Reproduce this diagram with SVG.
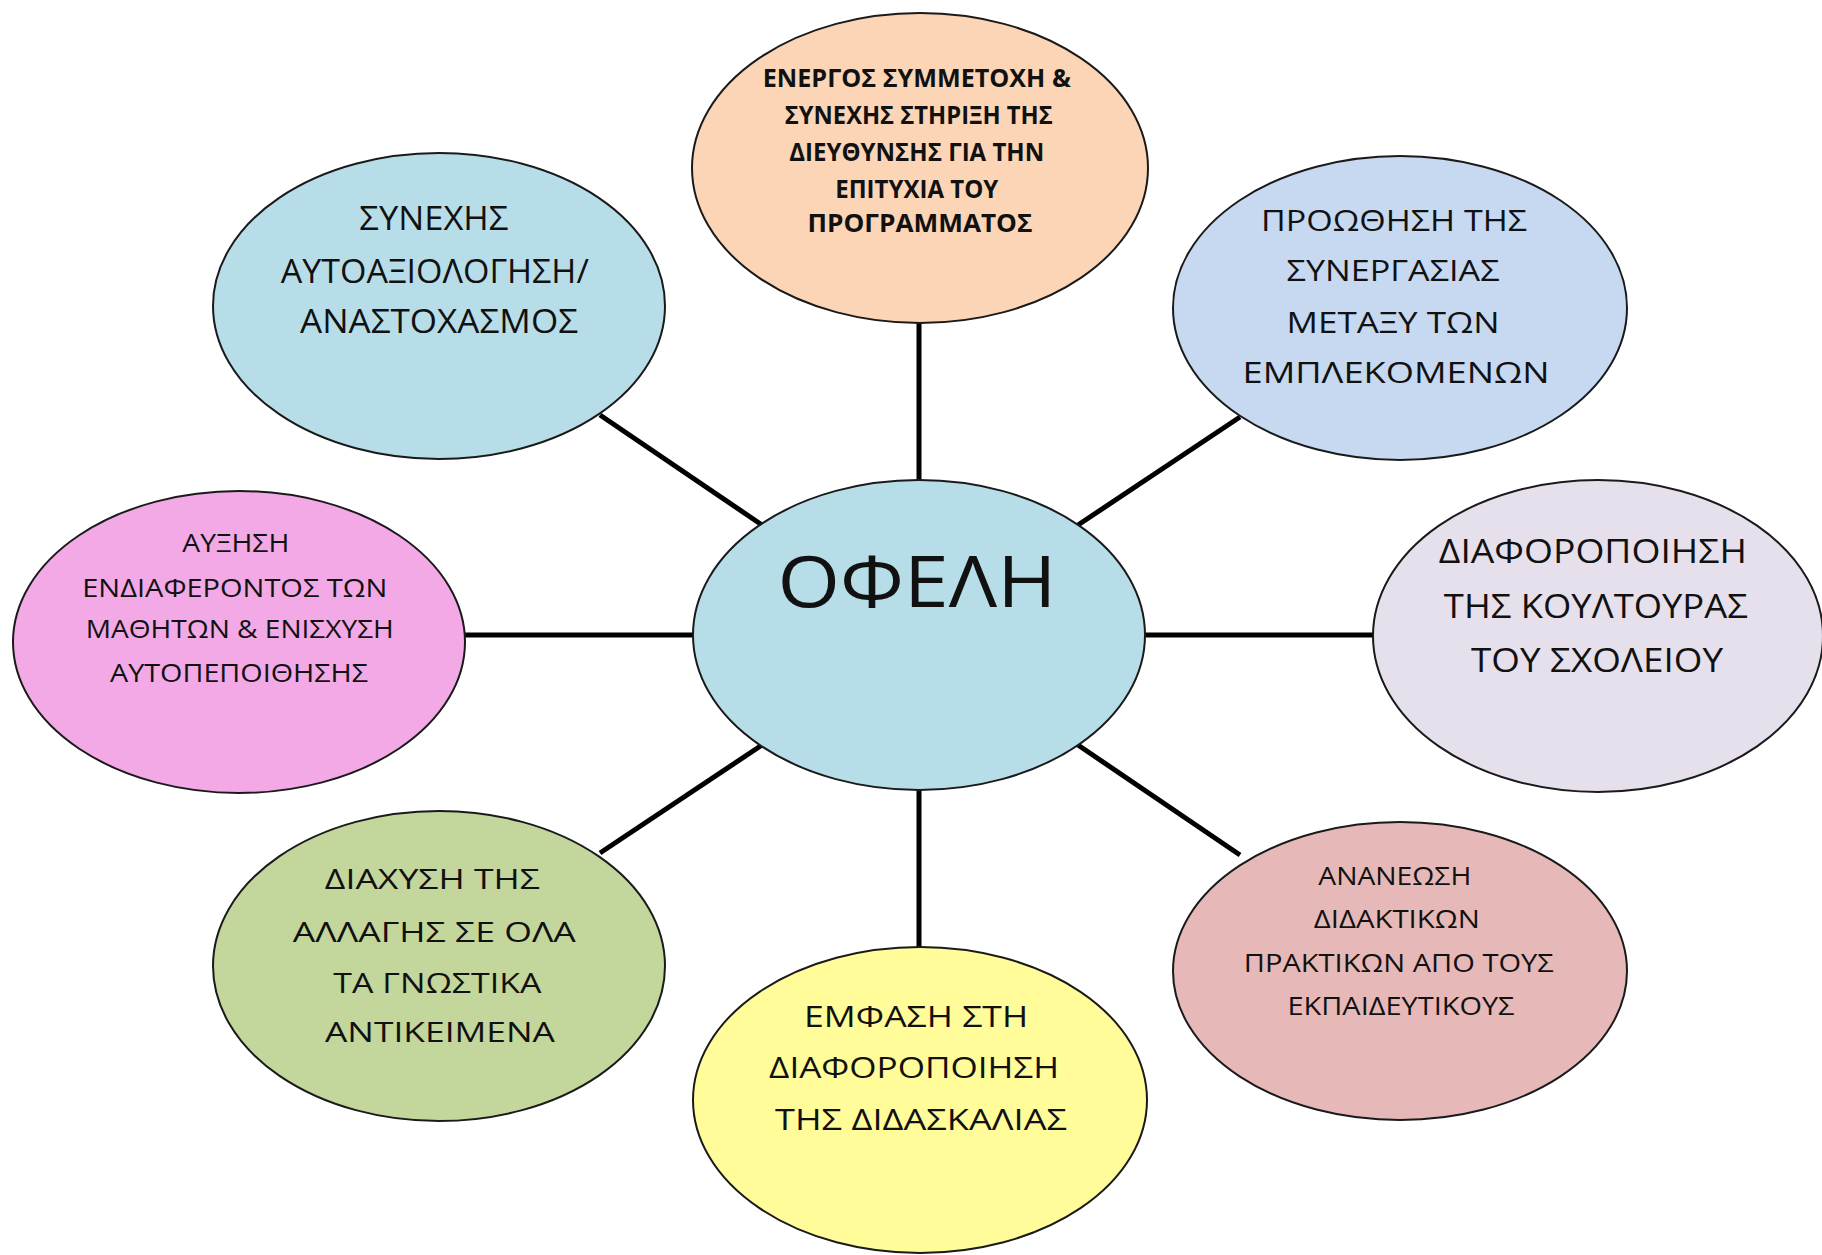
<svg xmlns="http://www.w3.org/2000/svg" width="1822" height="1255" viewBox="0 0 1822 1255">
<style>
.node ellipse{stroke:#1a1a1a;stroke-width:2}
.t{font-family:"Open Sans","Noto Sans","DejaVu Sans",sans-serif;fill:#111;text-anchor:middle}
.b{font-weight:bold}
.conn line{stroke:#000;stroke-width:5}
</style>
<rect width="1822" height="1255" fill="#fff"/>
<g id="connectors" class="conn">
<line x1="919" y1="323" x2="919" y2="482"/>
<line x1="600" y1="415" x2="762" y2="525"/>
<line x1="1240" y1="417" x2="1078" y2="525"/>
<line x1="465" y1="635" x2="695" y2="635"/>
<line x1="1143" y1="635" x2="1374" y2="635"/>
<line x1="600" y1="853" x2="762" y2="745"/>
<line x1="1240" y1="855" x2="1078" y2="745"/>
<line x1="919" y1="788" x2="919" y2="948"/>
</g>
<g id="n-top" class="node">
<ellipse cx="920" cy="168" rx="228" ry="155" fill="#FBD5B5"/>
<text class="t b" font-size="25">
<tspan x="920" y="87" textLength="308" lengthAdjust="spacingAndGlyphs">ΕΝΕΡΓΟΣ ΣΥΜΜΕΤΟΧΗ &amp;</tspan>
<tspan x="922" y="124" textLength="268" lengthAdjust="spacingAndGlyphs">ΣΥΝΕΧΗΣ ΣΤΗΡΙΞΗ ΤΗΣ</tspan>
<tspan x="920" y="161" textLength="255" lengthAdjust="spacingAndGlyphs">ΔΙΕΥΘΥΝΣΗΣ ΓΙΑ ΤΗΝ</tspan>
<tspan x="920" y="198" textLength="163" lengthAdjust="spacingAndGlyphs">ΕΠΙΤΥΧΙΑ ΤΟΥ</tspan>
<tspan x="920" y="232" textLength="225" lengthAdjust="spacingAndGlyphs">ΠΡΟΓΡΑΜΜΑΤΟΣ</tspan>
</text>
</g>
<g id="n-topleft" class="node">
<ellipse cx="439" cy="306" rx="226" ry="153" fill="#B7DEE8"/>
<text class="t" font-size="32">
<tspan x="438" y="230" textLength="149" lengthAdjust="spacingAndGlyphs">ΣΥΝΕΧΗΣ</tspan>
<tspan x="439" y="283" textLength="308" lengthAdjust="spacingAndGlyphs">ΑΥΤΟΑΞΙΟΛΟΓΗΣΗ/</tspan>
<tspan x="439" y="333" textLength="278" lengthAdjust="spacingAndGlyphs">ΑΝΑΣΤΟΧΑΣΜΟΣ</tspan>
</text>
</g>
<g id="n-topright" class="node">
<ellipse cx="1400" cy="308" rx="227" ry="152" fill="#C6D9F1"/>
<text class="t" font-size="30">
<tspan x="1398" y="231" textLength="266" lengthAdjust="spacingAndGlyphs">ΠΡΟΩΘΗΣΗ ΤΗΣ</tspan>
<tspan x="1397" y="281" textLength="213" lengthAdjust="spacingAndGlyphs">ΣΥΝΕΡΓΑΣΙΑΣ</tspan>
<tspan x="1397" y="333" textLength="213" lengthAdjust="spacingAndGlyphs">ΜΕΤΑΞΥ ΤΩΝ</tspan>
<tspan x="1396" y="383" textLength="307" lengthAdjust="spacingAndGlyphs">ΕΜΠΛΕΚΟΜΕΝΩΝ</tspan>
</text>
</g>
<g id="n-left" class="node">
<ellipse cx="239" cy="642" rx="226" ry="151" fill="#F2A9E6"/>
<text class="t" font-size="25">
<tspan x="239" y="552" textLength="107" lengthAdjust="spacingAndGlyphs">ΑΥΞΗΣΗ</tspan>
<tspan x="238" y="597" textLength="305" lengthAdjust="spacingAndGlyphs">ΕΝΔΙΑΦΕΡΟΝΤΟΣ ΤΩΝ</tspan>
<tspan x="243" y="638" textLength="308" lengthAdjust="spacingAndGlyphs">ΜΑΘΗΤΩΝ &amp; ΕΝΙΣΧΥΣΗ</tspan>
<tspan x="239" y="682" textLength="258" lengthAdjust="spacingAndGlyphs">ΑΥΤΟΠΕΠΟΙΘΗΣΗΣ</tspan>
</text>
</g>
<g id="n-center" class="node">
<ellipse cx="919" cy="635" rx="226" ry="155" fill="#B7DEE8"/>
<text class="t" font-size="72"><tspan x="917" y="607" textLength="279" lengthAdjust="spacingAndGlyphs">ΟΦΕΛΗ</tspan></text>
</g>
<g id="n-right" class="node">
<ellipse cx="1598" cy="636" rx="225" ry="156" fill="#E5E0EC"/>
<text class="t" font-size="32">
<tspan x="1597" y="563" textLength="308" lengthAdjust="spacingAndGlyphs">ΔΙΑΦΟΡΟΠΟΙΗΣΗ</tspan>
<tspan x="1600" y="618" textLength="304" lengthAdjust="spacingAndGlyphs">ΤΗΣ ΚΟΥΛΤΟΥΡΑΣ</tspan>
<tspan x="1597" y="672" textLength="252" lengthAdjust="spacingAndGlyphs">ΤΟΥ ΣΧΟΛΕΙΟΥ</tspan>
</text>
</g>
<g id="n-bottomleft" class="node">
<ellipse cx="439" cy="966" rx="226" ry="155" fill="#C3D69B"/>
<text class="t" font-size="28">
<tspan x="436" y="889" textLength="215" lengthAdjust="spacingAndGlyphs">ΔΙΑΧΥΣΗ ΤΗΣ</tspan>
<tspan x="438" y="942" textLength="283" lengthAdjust="spacingAndGlyphs">ΑΛΛΑΓΗΣ ΣΕ ΟΛΑ</tspan>
<tspan x="441" y="993" textLength="208" lengthAdjust="spacingAndGlyphs">ΤΑ ΓΝΩΣΤΙΚΑ</tspan>
<tspan x="440" y="1042" textLength="230" lengthAdjust="spacingAndGlyphs">ΑΝΤΙΚΕΙΜΕΝΑ</tspan>
</text>
</g>
<g id="n-bottom" class="node">
<ellipse cx="920" cy="1100" rx="227" ry="153" fill="#FFFC99"/>
<text class="t" font-size="30">
<tspan x="920" y="1027" textLength="224" lengthAdjust="spacingAndGlyphs">ΕΜΦΑΣΗ ΣΤΗ</tspan>
<tspan x="918" y="1078" textLength="290" lengthAdjust="spacingAndGlyphs">ΔΙΑΦΟΡΟΠΟΙΗΣΗ</tspan>
<tspan x="921" y="1130" textLength="292" lengthAdjust="spacingAndGlyphs">ΤΗΣ ΔΙΔΑΣΚΑΛΙΑΣ</tspan>
</text>
</g>
<g id="n-bottomright" class="node">
<ellipse cx="1400" cy="971" rx="227" ry="149" fill="#E6B9B8"/>
<text class="t" font-size="25">
<tspan x="1398" y="885" textLength="153" lengthAdjust="spacingAndGlyphs">ΑΝΑΝΕΩΣΗ</tspan>
<tspan x="1400" y="928" textLength="166" lengthAdjust="spacingAndGlyphs">ΔΙΔΑΚΤΙΚΩΝ</tspan>
<tspan x="1402" y="972" textLength="310" lengthAdjust="spacingAndGlyphs">ΠΡΑΚΤΙΚΩΝ  ΑΠΟ ΤΟΥΣ</tspan>
<tspan x="1401" y="1015" textLength="227" lengthAdjust="spacingAndGlyphs">ΕΚΠΑΙΔΕΥΤΙΚΟΥΣ</tspan>
</text>
</g>
</svg>
